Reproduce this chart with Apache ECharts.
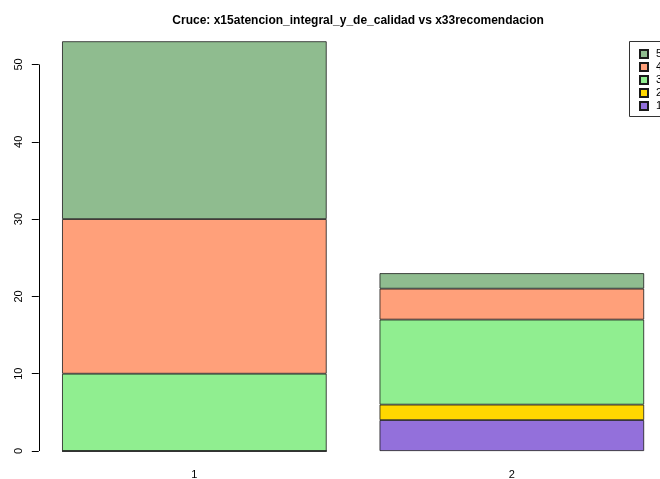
<!DOCTYPE html>
<html>
<head>
<meta charset="utf-8">
<script src="https://cdn.jsdelivr.net/npm/echarts@6/dist/echarts.min.js"></script>
<style>html,body{margin:0;padding:0;background:#fff}#chart{width:660px;height:479px}</style>
</head>
<body>
<div id="chart"></div>
<script>
// ---- data ----
const categories = ['1', '2'];
const seriesNames = ['1', '2', '3', '4', '5'];
const values1 = [0, 4];
const values2 = [0, 2];
const values3 = [10, 11];
const values4 = [20, 4];
const values5 = [23, 2];
const yTicks = [0, 10, 20, 30, 40, 50];
const title = 'Cruce: x15atencion_integral_y_de_calidad vs x33recomendacion';

// ---- layout (R barplot style: width 1, space 0.2, 4% axis expansion) ----
const barSpace = 0.2, barUnit = 1;
const xLo = barSpace, xHi = categories.length * (barUnit + barSpace);
const xPad = (xHi - xLo) * 0.04;
const xMin = xLo - xPad, xMax = xHi + xPad;
const allVals = [values1, values2, values3, values4, values5];
const totals = categories.map((c, i) => allVals.reduce((s, a) => s + a[i], 0));
const yTop = Math.max(...totals);
const yMin = -yTop * 0.04, yMax = yTop * 1.04;

const plotLeft = 38.8, plotWidth = 628.6, plotTop = 24.9, plotHeight = 442.5;
const pxPerUnit = plotWidth / (xMax - xMin);
// category grid: bands of (barUnit+barSpace), centred on R bar centres
const firstCenter = plotLeft + (barSpace + barUnit / 2 - xMin) * pxPerUnit;
const band = (barUnit + barSpace) * pxPerUnit;
const catLeft = firstCenter - band / 2;
const catWidth = band * categories.length;

const colors = ['#9370DB', '#FFD700', '#90EE90', '#FFA07A', '#8FBC8F'];

const series = allVals.map((vals, k) => ({
  name: seriesNames[k],
  type: 'bar',
  stack: 'total',
  xAxisIndex: 0,
  yAxisIndex: 0,
  barWidth: barUnit * pxPerUnit,
  data: vals,
  itemStyle: { color: colors[k], borderColor: '#1a1a1a', borderWidth: 0.8 },
  emphasis: { disabled: true },
  animation: false
}));
series.push({
  name: 'axis',
  type: 'line',
  xAxisIndex: 1,
  yAxisIndex: 1,
  data: [],
  silent: true,
  markLine: {
    silent: true,
    symbol: 'none',
    label: { show: false },
    lineStyle: { color: '#000', width: 1, type: 'solid' },
    data: [[{ coord: [xMin, yTicks[0]] }, { coord: [xMin, yTicks[yTicks.length - 1]] }]],
    animation: false
  }
});

const chart = echarts.init(document.getElementById('chart'), null, { renderer: 'canvas' });
chart.setOption({
  animation: false,
  backgroundColor: '#ffffff',
  title: {
    text: title,
    left: plotLeft + plotWidth / 2,
    textAlign: 'center',
    top: 10,
    textStyle: { fontFamily: 'Liberation Sans', fontSize: 12, fontWeight: 'bold', color: '#000' }
  },
  legend: {
    data: ['5', '4', '3', '2', '1'],
    orient: 'vertical',
    left: 639,
    top: 47.5,
    padding: 0,
    itemWidth: 8,
    itemHeight: 8,
    itemGap: 0,
    selectedMode: false,
    icon: 'rect',
    textStyle: { fontFamily: 'Liberation Sans', fontSize: 11, color: '#000', lineHeight: 13, padding: [0, 0, 0, 3] }
  },
  graphic: [{
    type: 'rect',
    shape: { x: 629.5, y: 41.5, width: 80, height: 75 },
    style: { fill: 'none', stroke: '#333', lineWidth: 1 },
    silent: true
  }],
  grid: [
    { left: catLeft, top: plotTop, width: catWidth, height: plotHeight, containLabel: false, outerBoundsMode: 'none' },
    { left: plotLeft, top: plotTop, width: plotWidth, height: plotHeight, containLabel: false, outerBoundsMode: 'none' }
  ],
  xAxis: [{
    type: 'category',
    gridIndex: 0,
    data: categories,
    boundaryGap: true,
    axisLine: { show: false },
    axisTick: { show: false },
    splitLine: { show: false },
    axisLabel: { fontFamily: 'Liberation Sans', fontSize: 11, color: '#000', margin: 2 }
  }, {
    type: 'value',
    gridIndex: 1,
    min: xMin,
    max: xMax,
    show: false
  }],
  yAxis: [{
    type: 'value',
    gridIndex: 0,
    min: yMin,
    max: yMax,
    show: false
  }, {
    type: 'value',
    gridIndex: 1,
    min: yMin,
    max: yMax,
    axisLine: { show: false },
    splitLine: { show: false },
    axisTick: { show: true, customValues: yTicks, length: 7, lineStyle: { color: '#000', width: 1 } },
    axisLabel: { customValues: yTicks, rotate: 90, fontFamily: 'Liberation Sans', fontSize: 11, color: '#000', margin: 14 }
  }],
  series: series
});
</script>
</body>
</html>
